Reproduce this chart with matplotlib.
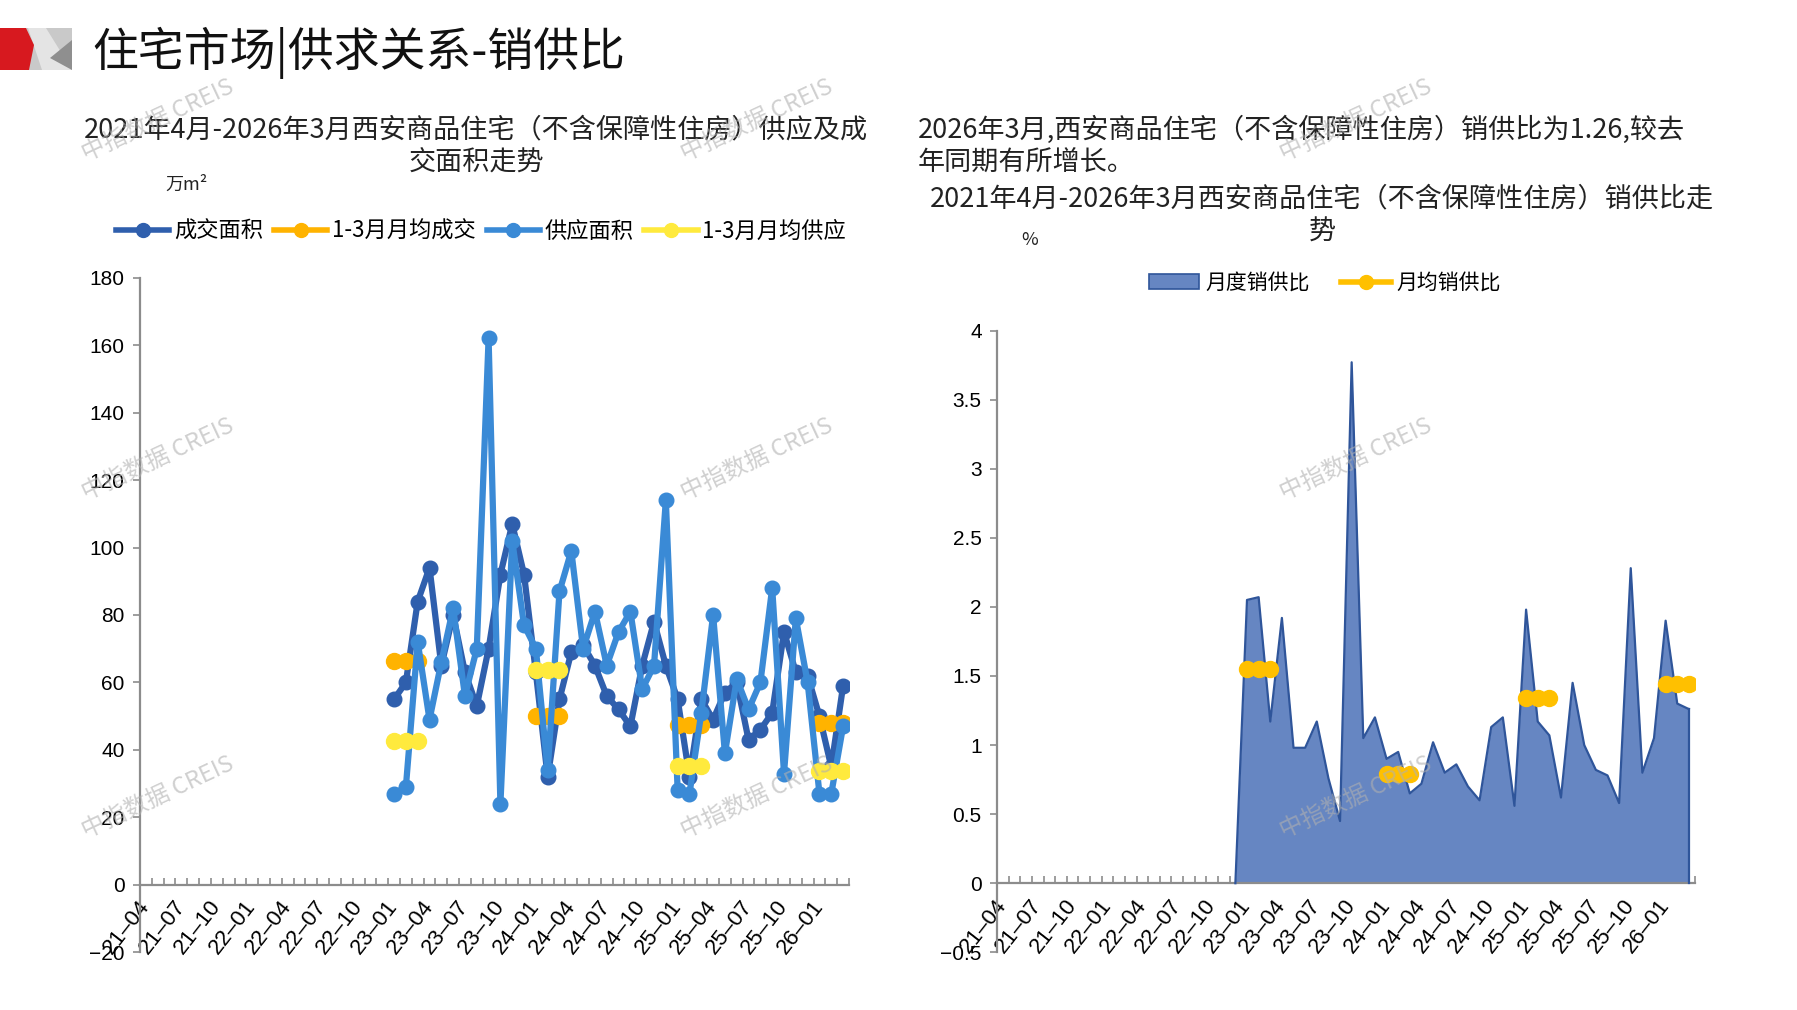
import numpy as np
import matplotlib.pyplot as plt
from matplotlib.patches import Polygon, Rectangle, Patch
from matplotlib.lines import Line2D

plt.rcParams['font.family'] = ['Noto Sans CJK SC', 'DejaVu Sans']
plt.rcParams['axes.unicode_minus'] = True

# month categories 21-04 .. 26-03
months = []
for y in range(21, 27):
    for m in range(1, 13):
        if (y == 21 and m < 4) or (y == 26 and m > 3):
            continue
        months.append(f"{y:02d}-{m:02d}")

start = 21  # data starts at 23-01

# 成交面积 (万m²), 23-01 .. 26-03
deal = [55, 60, 84, 94, 65, 80, 63, 53, 70, 92, 107, 92,
        63, 32, 55, 69, 71, 65, 56, 52, 47, 65, 78, 65,
        55, 32, 55, 49, 57, 60, 43, 46, 51, 75, 63, 62,
        50, 35, 59]
# 供应面积 (万m²)
supply = [27, 29, 72, 49, 66, 82, 56, 70, 162, 24, 102, 77,
          70, 34, 87, 99, 70, 81, 65, 75, 81, 58, 65, 114,
          28, 27, 51, 80, 39, 61, 52, 60, 88, 33, 79, 60,
          27, 27, 47]
# 1-3月月均 values per year 2023..2026
avg_years = [2023, 2024, 2025, 2026]
avg_deal = [66.3, 50.0, 47.3, 48.0]
avg_supply = [42.7, 63.7, 35.3, 33.7]

# 月度销供比
ratio = [2.05, 2.07, 1.17, 1.92, 0.98, 0.98, 1.17, 0.76, 0.45, 3.77,
         1.05, 1.20, 0.90, 0.95, 0.65, 0.72, 1.02, 0.80, 0.86, 0.70,
         0.60, 1.13, 1.20, 0.56, 1.98, 1.17, 1.07, 0.62, 1.45, 1.00,
         0.82, 0.78, 0.58, 2.28, 0.80, 1.05, 1.90, 1.30, 1.26]
avg_ratio = [1.55, 0.79, 1.34, 1.44]

W, H = 1797, 1010
fig = plt.figure(figsize=(W / 100, H / 100), dpi=100)

# background overlay in pixel coords
bg = fig.add_axes([0, 0, 1, 1])
bg.set_xlim(0, W)
bg.set_ylim(H, 0)
bg.axis('off')
bg.add_patch(Rectangle((0, 28), 72, 42, color='#c9c9c9', lw=0))
bg.add_patch(Polygon([(28, 28), (46, 28), (72, 70), (42, 70)], closed=True, color='#e4e4e4', lw=0))
bg.add_patch(Polygon([(72, 40), (72, 70), (50, 58)], closed=True, color='#8f8f8f', lw=0))
bg.add_patch(Polygon([(0, 28), (26, 28), (34, 45), (29, 70), (0, 70)], closed=True, color='#d7191f', lw=0))
bg.text(92, 53, "住宅市场|供求关系-销供比", fontsize=33, va='center', ha='left', color='#111111')

sub_fs = 19.5
bg.text(476, 130, "2021年4月-2026年3月西安商品住宅（不含保障性住房）供应及成", fontsize=sub_fs, ha='center', va='center', color='#222222')
bg.text(476, 163, "交面积走势", fontsize=sub_fs, ha='center', va='center', color='#222222')
bg.text(186, 185, "万m²", fontsize=13, ha='center', va='center', color='#222222')

bg.text(918, 130, "2026年3月,西安商品住宅（不含保障性住房）销供比为1.26,较去", fontsize=sub_fs, ha='left', va='center', color='#222222')
bg.text(918, 163, "年同期有所增长。", fontsize=sub_fs, ha='left', va='center', color='#222222')
bg.text(1322, 199, "2021年4月-2026年3月西安商品住宅（不含保障性住房）销供比走", fontsize=sub_fs, ha='center', va='center', color='#222222')
bg.text(1322, 232, "势", fontsize=sub_fs, ha='center', va='center', color='#222222')
bg.text(1030, 240, "%", fontsize=13, ha='center', va='center', color='#222222')

x_all = np.arange(len(months))
x_data = np.arange(start, start + len(deal))
tick_idx = list(range(0, len(months), 3))

def style_axis(ax, ylo, yhi, yticks, ylabels):
    ax.set_xlim(-0.5, len(months) - 0.5)
    ax.set_ylim(ylo, yhi)
    for s in ['top', 'right']:
        ax.spines[s].set_visible(False)
    ax.spines['bottom'].set_position(('data', 0))
    for s in ['left', 'bottom']:
        ax.spines[s].set_color('#8c8c8c')
        ax.spines[s].set_linewidth(1.6)
    ax.set_yticks(yticks)
    ax.set_yticklabels(ylabels, fontfamily='Liberation Sans', fontsize=15)
    ax.tick_params(axis='y', direction='out', length=5, width=1.2, color='#8c8c8c', pad=6)
    ax.set_xticks(tick_idx)
    ax.set_xticklabels([months[i].replace('-', '\u2013') for i in tick_idx], rotation=52, ha='right',
                       va='center', rotation_mode='anchor', fontfamily='Liberation Sans', fontsize=16)
    ax.set_xticks(np.arange(-0.5, len(months), 1), minor=True)
    ax.tick_params(axis='x', which='major', length=0, pad=13)
    ax.tick_params(axis='x', which='minor', direction='in', length=5, width=1.2, color='#8c8c8c')
    ax.patch.set_alpha(0)

# left chart
ax1 = fig.add_axes([140 / W, 1 - 952.3 / H, (849 - 140) / W, (952.3 - 277.7) / H])
c_deal = '#2f5fad'
c_sup = '#3a8ad6'
c_avgd = '#ffb300'
c_avgs = '#ffea3d'
ax1.plot(x_data, deal, color=c_deal, lw=4.5, marker='o', ms=10.5, zorder=3)
for k, v in enumerate(avg_deal):
    xs = np.arange(start + 12 * k, start + 12 * k + 3)
    ax1.plot(xs, [v] * 3, color=c_avgd, lw=5.5, marker='o', ms=11.5, zorder=4)
ax1.plot(x_data, supply, color=c_sup, lw=4.5, marker='o', ms=10.5, zorder=5)
for k, v in enumerate(avg_supply):
    xs = np.arange(start + 12 * k, start + 12 * k + 3)
    ax1.plot(xs, [v] * 3, color=c_avgs, lw=5.5, marker='o', ms=11.5, zorder=6)
yt = list(range(-20, 181, 20))
style_axis(ax1, -20, 180, yt, [str(v).replace('-', '\u2212') for v in yt])

h1 = [Line2D([], [], color=c, lw=4, marker='o', ms=10) for c in [c_deal, c_avgd, c_sup, c_avgs]]
fig.legend(h1, ["成交面积", "1-3月月均成交", "供应面积", "1-3月月均供应"], loc='center',
           bbox_to_anchor=(481 / W, 1 - 231 / H), ncol=4, frameon=False, fontsize=16,
           handlelength=2.4, handletextpad=0.2, columnspacing=0.5)

# right chart
ax2 = fig.add_axes([997 / W, 1 - 952.3 / H, (1694.7 - 997) / W, (952.3 - 330.5) / H])
ratio_full = np.zeros(len(months))
ratio_full[start:start + len(ratio)] = ratio
ax2.fill_between(x_all, 0, ratio_full, where=x_all >= start - 1, color='#6686c2', lw=0, zorder=2)
ax2.plot(x_all[start - 1:], ratio_full[start - 1:], color='#2f559a', lw=1.6, zorder=3)
ax2.plot([len(months) - 1, len(months) - 1], [0, ratio[-1]], color='#2f559a', lw=1.6, zorder=3)
c_avgr = '#ffc000'
for k, v in enumerate(avg_ratio):
    xs = np.arange(start + 12 * k, start + 12 * k + 3)
    ax2.plot(xs, [v] * 3, color=c_avgr, lw=5.5, marker='o', ms=11.5, zorder=4)
yt2 = [-0.5, 0, 0.5, 1, 1.5, 2, 2.5, 3, 3.5, 4]
style_axis(ax2, -0.5, 4, yt2, ["\u22120.5", "0", "0.5", "1", "1.5", "2", "2.5", "3", "3.5", "4"])

h2 = [Patch(facecolor='#6686c2', edgecolor='#2f559a', lw=1.2),
      Line2D([], [], color=c_avgr, lw=4, marker='o', ms=10)]
fig.legend(h2, ["月度销供比", "月均销供比"], loc='center',
           bbox_to_anchor=(1325 / W, 1 - 283 / H), ncol=2, frameon=False, fontsize=15,
           handlelength=2.4, handletextpad=0.3, columnspacing=1.5)

# watermarks
for wx in [158, 757, 1356]:
    for wy in [120, 459, 797]:
        fig.text(wx / W, 1 - wy / H, "中指数据 CREIS", fontsize=17, color='#b0b0b0', alpha=0.6,
                 rotation=25, ha='center', va='center', zorder=20)

fig.savefig('out.png', dpi=100)
